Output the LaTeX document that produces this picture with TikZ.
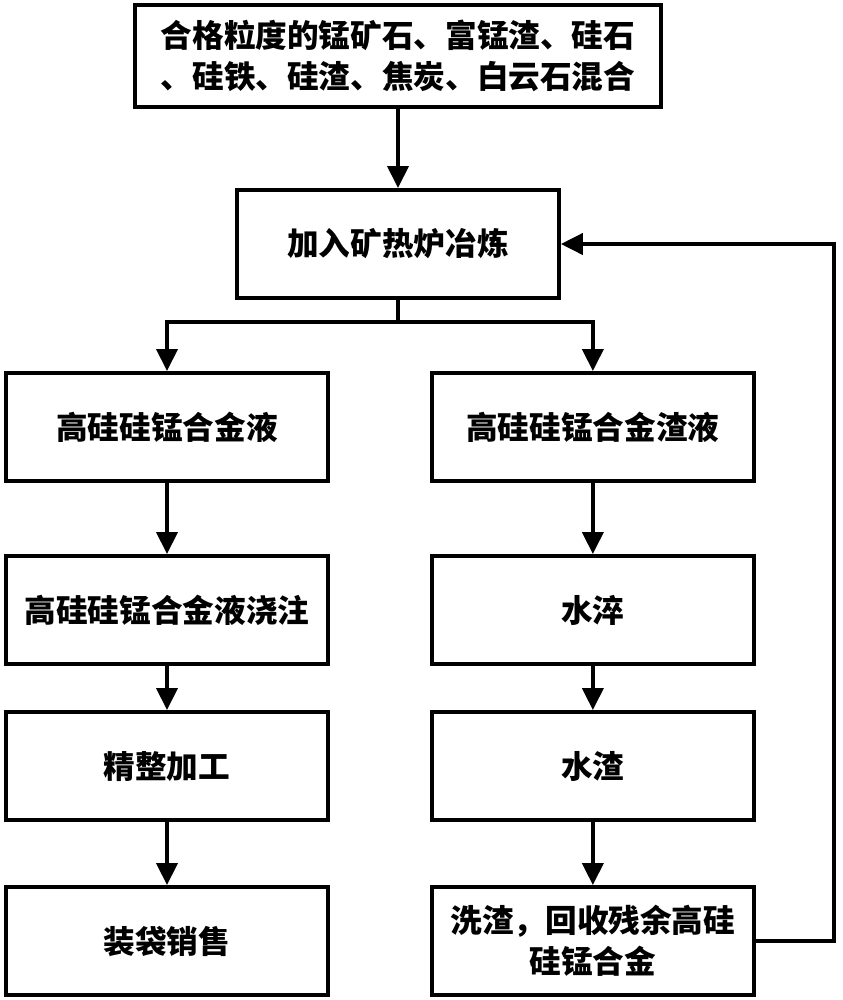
\documentclass[tikz,border=0pt]{standalone}
\usepackage{fontspec}
\newfontfamily\cjk{Noto Sans CJK SC}
\usetikzlibrary{arrows.meta,positioning}

\tikzstyle{proceso}=[draw, line width=2.3pt, fill=white, text width=6.2cm,
  align=center, minimum width=6.4cm, minimum height=2.16cm,
  font=\cjk\bfseries\fontsize{18}{23.5}\selectfont]
\tikzstyle{entrada}=[proceso, text width=10.3cm, minimum width=10.5cm,
  minimum height=2.04cm]
\tikzstyle{line}=[draw, line width=2.3pt, -{Triangle[length=0.44cm,width=0.42cm]}]
\tikzstyle{tramo}=[draw, line width=2.3pt]
\newcommand{\proceso}[2]{node (p#1) [proceso] {#2}}

\begin{document}
\begin{tikzpicture}[x=0.02cm, y=-0.02cm]

\useasboundingbox[fill=white] (0,0) rectangle (842,1000);

% Draw diagram elements
\path (398,56) node (p1) [entrada]
  {合格粒度的锰矿石、富锰渣、硅石\\、硅铁、硅渣、焦炭、白云石混合};

\path (p1.south)+(0,135) \proceso{2}{加入矿热炉冶炼};

% left branch: alloy
\path (p2.south)+(-231,127) \proceso{3}{高硅硅锰合金液};
\path (p3.south)+(0,127) \proceso{4}{高硅硅锰合金液浇注};
\path (p4.south)+(0,100) \proceso{5}{精整加工};
\path (p5.south)+(0,119) \proceso{6}{装袋销售};

% right branch: slag
\path (p3.east)+(263,0) \proceso{7}{高硅硅锰合金渣液};
\path (p4.east)+(263,0) \proceso{8}{水淬};
\path (p5.east)+(263,0) \proceso{9}{水渣};
\path (p6.east)+(263,0) \proceso{10}{洗渣，回收残余高硅\\硅锰合金};

% Draw arrows between elements
\path [line] (p1.south) -- (p2.north);

\path (p2.south)+(0,22) coordinate (c1);
\path [tramo] (p2.south) -- (c1);
\path [line] (c1) -| (p3.north);
\path [line] (c1) -| (p7.north);

\path [line] (p3.south) -- (p4.north);
\path [line] (p4.south) -- (p5.north);
\path [line] (p5.south) -- (p6.north);

\path [line] (p7.south) -- (p8.north);
\path [line] (p8.south) -- (p9.north);
\path [line] (p9.south) -- (p10.north);

% recycled alloy back to the furnace
\path [line] (p10.east) -- ++(78,0) |- (p2.east);

\end{tikzpicture}
\end{document}
